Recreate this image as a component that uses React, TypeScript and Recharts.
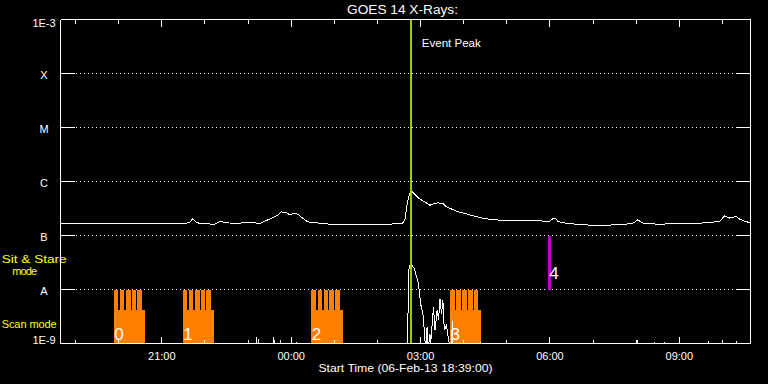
import React from 'react';
import {
  ComposedChart,
  Line,
  XAxis,
  YAxis,
  CartesianGrid,
  ReferenceArea,
  ReferenceLine,
} from 'recharts';

// ---------- data ----------
const startTime = '18:39';
const titleText = 'GOES 14 X-Rays:';
const xAxisTitle = 'Start Time (06-Feb-13 18:39:00)';
const eventPeakTime = '02:47';
const eventPeakLabel = 'Event Peak';

// GOES 1-8 A channel (W/m^2)
const longTimes = [
  '18:39', '18:59', '19:34', '20:16', '20:57', '21:18', '21:32', '21:39', '21:43', '21:47',
  '21:53', '22:14', '22:21', '22:28', '22:42', '23:03', '23:16', '23:33', '23:41', '23:46',
  '23:53', '23:58', '00:04', '00:09', '00:16', '00:23', '00:40', '00:54', '01:22', '01:49',
  '02:17', '02:35', '02:38', '02:41', '02:44', '02:47', '02:49', '02:52', '02:59', '03:06',
  '03:13', '03:17', '03:23', '03:31', '03:36', '03:47', '03:55', '04:02', '04:09', '04:16',
  '04:22', '04:36', '04:50', '05:04', '05:18', '05:32', '05:46', '06:00', '06:04', '06:07',
  '06:11', '06:17', '06:28', '06:42', '07:09', '07:37', '07:54', '07:58', '08:02', '08:07',
  '08:12', '08:33', '09:01', '09:29', '09:43', '09:56', '10:03', '10:09', '10:13', '10:19',
  '10:24', '10:31', '10:38',
];
const longFlux = [
  1.67e-7, 1.69e-7, 1.66e-7, 1.69e-7, 1.66e-7, 1.69e-7, 1.66e-7, 1.76e-7, 2.07e-7, 1.8e-7,
  1.66e-7, 1.62e-7, 1.84e-7, 1.73e-7, 1.67e-7, 1.76e-7, 1.67e-7, 2.1e-7, 2.38e-7, 2.74e-7,
  2.65e-7, 2.43e-7, 2.55e-7, 2.48e-7, 2.1e-7, 1.79e-7, 1.69e-7, 1.62e-7, 1.62e-7, 1.62e-7,
  1.62e-7, 1.69e-7, 1.92e-7, 3.64e-7, 5.57e-7, 6.61e-7, 6.36e-7, 5.82e-7, 4.71e-7, 4.19e-7,
  3.64e-7, 3.8e-7, 4.02e-7, 3.96e-7, 3.39e-7, 2.94e-7, 2.67e-7, 2.55e-7, 2.38e-7, 2.28e-7,
  2.15e-7, 2.0e-7, 1.92e-7, 1.89e-7, 1.92e-7, 1.88e-7, 1.86e-7, 1.84e-7, 2.05e-7, 2.1e-7,
  1.84e-7, 1.73e-7, 1.66e-7, 1.59e-7, 1.53e-7, 1.59e-7, 1.66e-7, 1.76e-7, 1.96e-7, 1.76e-7,
  1.66e-7, 1.62e-7, 1.67e-7, 1.69e-7, 1.76e-7, 1.8e-7, 2.33e-7, 2.1e-7, 2.14e-7, 2.28e-7,
  2.0e-7, 1.84e-7, 1.73e-7,
];

// GOES 0.5-4 A channel (W/m^2)
const shortTimes = [
  '18:39', '23:11', '23:12', '23:13', '23:14', '23:15', '23:34', '23:35', '23:36', '23:37',
  '23:38', '23:44', '23:45', '23:46', '00:07', '00:08', '00:09', '02:41', '02:44', '02:46',
  '02:48', '02:51', '02:56', '02:58', '03:00', '03:04', '03:05', '03:07', '03:09', '03:10',
  '03:13', '03:14', '03:18', '03:20', '03:23', '03:25', '03:27', '03:29', '03:31', '03:33',
  '03:36', '03:39', '03:42', '03:43', '03:44', '03:45', '04:23', '04:24', '04:25', '08:01',
  '08:02', '08:03', '08:24', '08:25', '08:26', '08:39', '08:40', '08:41', '09:39', '09:40',
  '09:41', '10:19', '10:20', '10:21', '10:39',
];
const shortFlux = [
  5e-10, 5e-10, 1.3e-9, 5e-10, 1.2e-9, 5e-10, 5e-10, 1.3e-9, 5e-10, 1.15e-9,
  5e-10, 5e-10, 1.15e-9, 5e-10, 5e-10, 1.06e-9, 5e-10, 5e-10, 2.8e-8, 2.9e-8,
  2.8e-8, 2.45e-8, 1.49e-8, 9.7e-9, 5.5e-9, 3.1e-9, 1.76e-9, 8e-10, 2.0e-9, 7e-10,
  1.5e-9, 1.0e-9, 4.8e-9, 1.76e-9, 4.1e-9, 2.7e-9, 6.8e-9, 3.5e-9, 6.3e-9, 1.76e-9,
  2.2e-9, 1.15e-9, 7e-10, 7e-10, 2.6e-9, 7e-10, 5e-10, 1.05e-9, 5e-10, 5e-10,
  1.15e-9, 5e-10, 5e-10, 1.05e-9, 5e-10, 5e-10, 1.05e-9, 5e-10, 5e-10, 1.1e-9,
  5e-10, 5e-10, 1.1e-9, 5e-10, 5e-10,
];

// axes
const yTickValues = [1e-9, 1e-8, 1e-7, 1e-6, 1e-5, 1e-4, 1e-3];
const yTickLabels = ['1E-9', 'A', 'B', 'C', 'M', 'X', '1E-3'];
const majorTickTimes = ['21:00', '00:00', '03:00', '06:00', '09:00'];
const minorTickTimes = [
  '19:00', '20:00', '21:00', '22:00', '23:00', '00:00', '01:00', '02:00',
  '03:00', '04:00', '05:00', '06:00', '07:00', '08:00', '09:00', '10:00',
];

// observation timeline: scan mode blocks
const scanStarts = ['19:53', '21:29', '00:28', '03:41'];
const scanEnds = ['20:37', '22:12', '01:12', '04:24'];
const scanLabels = ['0', '1', '2', '3'];
const rasterOffsetsMin = [0, 8.6, 17, 25, 32.8];
const rasterLengthMin = 6.4;
const scanBaseTop = 4.1e-9;
const scanRasterTop = 1e-8;

// sit & stare block
const stareStart = '05:57';
const stareEnd = '06:01';
const stareLabel = '4';
const stareBottom = 1e-8;
const stareTop = 1e-7;

// ---------- helpers ----------
const toMin = (s: string) => {
  const [h, m] = s.split(':').map(Number);
  return h * 60 + m;
};
const START_MIN = toMin(startTime);
const toHours = (s: string) => {
  let d = toMin(s) - START_MIN;
  if (d < 0) d += 1440;
  return d / 60;
};
const fmtTime = (v: number) => {
  const total = (((Math.round(v * 60) + START_MIN) % 1440) + 1440) % 1440;
  return `${String(Math.floor(total / 60)).padStart(2, '0')}:${String(total % 60).padStart(2, '0')}`;
};

const longData = longTimes.map((t, i) => ({ t: toHours(t), f: longFlux[i] }));
const shortData = shortTimes.map((t, i) => ({ t: toHours(t), f: shortFlux[i] }));
const majorTicks = majorTickTimes.map(toHours);
const minorTicks = minorTickTimes.map(toHours);
const isMajor = (v: number) => majorTicks.some((m) => Math.abs(m - v) < 1e-6);

const FONT = '"Liberation Sans", Arial, sans-serif';
const ORANGE = '#ff8000';

const LeftTick = (props: any) => {
  const { x, y, payload } = props;
  const idx = Math.round(Math.log10(payload.value)) + 9;
  const dy = idx === 0 ? -3.6 : idx === 6 ? 3.6 : 1;
  return (
    <g>
      <line x1={x} x2={x + 14} y1={y} y2={y} stroke="#fff" />
      <text x={x - 16.5} y={y + dy} textAnchor="middle" dominantBaseline="central" fill="#fff" fontSize={11} fontFamily={FONT}>
        {yTickLabels[idx]}
      </text>
    </g>
  );
};

const RightTick = (props: any) => {
  const { x, y } = props;
  return <line x1={x} x2={x - 14} y1={y} y2={y} stroke="#fff" />;
};

const BottomTick = (props: any) => {
  const { x, y, payload } = props;
  const major = isMajor(payload.value);
  return (
    <g>
      <line x1={x} x2={x} y1={y} y2={y - (major ? 7 : 4)} stroke="#fff" />
      {major && (
        <text x={x} y={y + 16} textAnchor="middle" fill="#fff" fontSize={11} fontFamily={FONT}>
          {fmtTime(payload.value)}
        </text>
      )}
    </g>
  );
};

const TopTick = (props: any) => {
  const { x, y, payload } = props;
  const major = isMajor(payload.value);
  return <line x1={x} x2={x} y1={y} y2={y + (major ? 7 : 4)} stroke="#fff" />;
};

const numberLabel = (text: string) => (p: any) => {
  const vb = p.viewBox || {};
  return (
    <text x={vb.x + 0.5} y={vb.y + vb.height - 4} fill="#fff" fontSize={17} fontFamily={FONT}>
      {text}
    </text>
  );
};

export default function App() {
  const common = { xAxisId: 'bottom', yAxisId: 'left' } as const;
  return (
    <div style={{ position: 'fixed', left: 0, top: 0, width: 768, height: 384, background: '#000', overflow: 'hidden' }}>
      <ComposedChart
        width={768}
        height={384}
        margin={{ top: 18.5, right: 16.5, bottom: 39.5, left: 59.5 }}
        style={{ shapeRendering: 'crispEdges' }}
      >
        <CartesianGrid
          xAxisId="bottom"
          yAxisId="left"
          vertical={false}
          stroke="#fff"
          strokeDasharray="1 3"
          strokeDashoffset={0.5}
        />
        <XAxis
          xAxisId="bottom"
          type="number"
          dataKey="t"
          domain={[0, 16]}
          allowDataOverflow
          orientation="bottom"
          height={1}
          ticks={minorTicks}
          interval={0}
          tickSize={0}
          tickMargin={0}
          tickLine={false}
          tick={<BottomTick />}
          axisLine={{ stroke: '#fff' }}
        />
        <XAxis
          xAxisId="top"
          type="number"
          dataKey="t"
          domain={[0, 16]}
          allowDataOverflow
          orientation="top"
          height={1}
          ticks={minorTicks}
          interval={0}
          tickSize={0}
          tickMargin={0}
          tickLine={false}
          tick={<TopTick />}
          axisLine={{ stroke: '#fff' }}
        />
        <YAxis
          yAxisId="left"
          type="number"
          scale="log"
          domain={[1e-9, 1e-3]}
          allowDataOverflow
          orientation="left"
          width={1}
          ticks={yTickValues}
          interval={0}
          tickSize={0}
          tickMargin={0}
          tickLine={false}
          tick={<LeftTick />}
          axisLine={{ stroke: '#fff' }}
        />
        <YAxis
          yAxisId="right"
          type="number"
          scale="log"
          domain={[1e-9, 1e-3]}
          allowDataOverflow
          orientation="right"
          width={1}
          ticks={yTickValues}
          interval={0}
          tickSize={0}
          tickMargin={0}
          tickLine={false}
          tick={<RightTick />}
          axisLine={{ stroke: '#fff' }}
        />

        {scanStarts.map((s, i) => (
          <ReferenceArea
            key={`scan-${i}`}
            {...common}
            x1={toHours(s)}
            x2={toHours(scanEnds[i])}
            y1={1e-9}
            y2={scanBaseTop}
            fill={ORANGE}
            fillOpacity={1}
            stroke="none"
            ifOverflow="visible"
          />
        ))}
        {scanStarts.flatMap((s, i) =>
          rasterOffsetsMin.map((o, j) => (
            <ReferenceArea
              key={`raster-${i}-${j}`}
              {...common}
              x1={toHours(s) + o / 60}
              x2={toHours(s) + (o + rasterLengthMin) / 60}
              y1={scanBaseTop}
              y2={scanRasterTop}
              fill={ORANGE}
              fillOpacity={1}
              stroke="none"
              ifOverflow="visible"
            />
          ))
        )}
        <ReferenceArea
          {...common}
          x1={toHours(stareStart)}
          x2={toHours(stareEnd)}
          y1={stareBottom}
          y2={stareTop}
          fill="#c800c8"
          fillOpacity={1}
          stroke="none"
          ifOverflow="visible"
          label={(p: any) => {
            const vb = p.viewBox || {};
            return (
              <text x={vb.x + 1.5} y={vb.y + vb.height * 0.8} fill="#fff" fontSize={17} fontFamily={FONT}>
                {stareLabel}
              </text>
            );
          }}
        />

        <Line
          {...common}
          data={shortData}
          dataKey="f"
          type="linear"
          stroke="#fff"
          strokeWidth={1}
          dot={false}
          activeDot={false}
          isAnimationActive={false}
        />
        <Line
          {...common}
          data={longData}
          dataKey="f"
          type="linear"
          stroke="#fff"
          strokeWidth={1}
          dot={false}
          activeDot={false}
          isAnimationActive={false}
        />

        {scanStarts.map((s, i) => (
          <ReferenceArea
            key={`scanlabel-${i}`}
            {...common}
            x1={toHours(s)}
            x2={toHours(scanEnds[i])}
            y1={1e-9}
            y2={scanBaseTop}
            fill="none"
            fillOpacity={0}
            stroke="none"
            ifOverflow="visible"
            label={numberLabel(scanLabels[i])}
          />
        ))}

        <ReferenceLine
          {...common}
          x={toHours(eventPeakTime)}
          stroke="#9ccc00"
          strokeWidth={2}
          label={(p: any) => {
            const vb = p.viewBox || {};
            return (
              <text x={vb.x + 10.5} y={vb.y + 27.2} fill="#fff" fontSize={11} fontFamily={FONT} textLength={59} lengthAdjust="spacingAndGlyphs">
                {eventPeakLabel}
              </text>
            );
          }}
        />

        <text x={347} y={14} fill="#fff" fontSize={12.5} fontFamily={FONT} textLength={111} lengthAdjust="spacingAndGlyphs">
          {titleText}
        </text>
        <text x={318.5} y={372.3} fill="#fff" fontSize={11.5} fontFamily={FONT} textLength={174} lengthAdjust="spacingAndGlyphs">
          {xAxisTitle}
        </text>
        <text x={1.7} y={263.3} fill="#ffff00" fontSize={11.5} fontFamily={FONT} textLength={65} lengthAdjust="spacingAndGlyphs">
          Sit &amp; Stare
        </text>
        <text x={12.2} y={275} fill="#ffff00" fontSize={11} fontFamily={FONT} textLength={25} lengthAdjust="spacing">
          mode
        </text>
        <text x={1.7} y={327.7} fill="#ffff00" fontSize={11} fontFamily={FONT} textLength={55} lengthAdjust="spacing">
          Scan mode
        </text>
      </ComposedChart>
    </div>
  );
}
